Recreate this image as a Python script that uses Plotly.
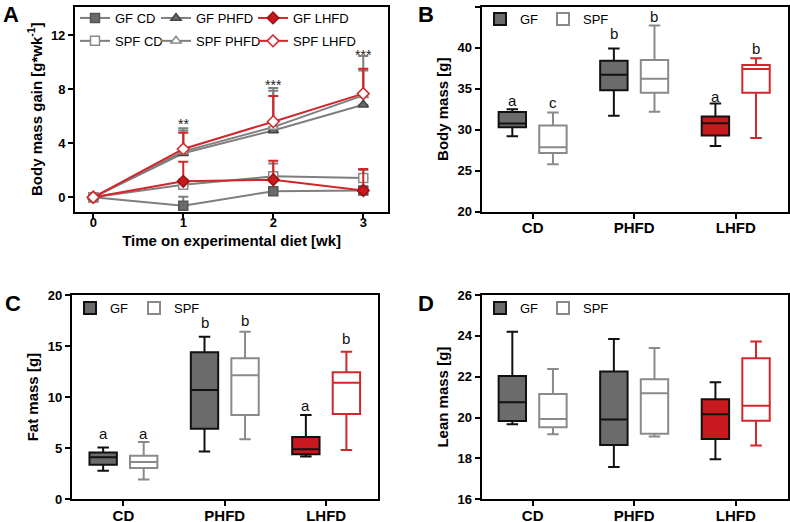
import plotly.graph_objects as go

FONT = "Liberation Sans"

# ---------------- Panel A data (mean, upper SEM/SD) ----------------
weeks = [0, 1, 2, 3]
gf_cd = [0, -0.62, 0.45, 0.5]
gf_cd_err = [0, 0.65, 0.2, 0.15]
spf_cd = [0, 0.92, 1.55, 1.42]
spf_cd_err = [0, 0.4, 0.95, 0.6]
gf_phfd = [0, 3.26, 4.95, 6.86]
gf_phfd_err = [0, 1.85, 3.15, 3.6]
spf_phfd = [0, 3.4, 5.2, 7.55]
spf_phfd_err = [0, 1.55, 2.7, 1.85]
gf_lhfd = [0, 1.18, 1.3, 0.5]
gf_lhfd_err = [0, 1.45, 1.4, 1.6]
spf_lhfd = [0, 3.58, 5.6, 7.68]
spf_lhfd_err = [0, 1.2, 1.9, 1.85]
sig_weeks = [1, 2, 3]
sig_labels = ["**", "***", "***"]
sig_y = [5.45, 8.35, 10.55]

# ---------------- Box panels data ----------------
categories = ["CD", "PHFD", "LHFD"]

body_gf_low = [29.2, 31.7, 28.0]
body_gf_q1 = [30.3, 34.8, 29.3]
body_gf_med = [30.75, 36.7, 30.8]
body_gf_q3 = [32.15, 38.4, 31.6]
body_gf_high = [32.5, 39.9, 33.2]
body_spf_low = [25.8, 32.2, 29.0]
body_spf_q1 = [27.15, 34.5, 34.5]
body_spf_med = [27.85, 36.2, 37.4]
body_spf_q3 = [30.5, 38.5, 37.9]
body_spf_high = [32.1, 42.7, 38.7]
body_gf_letters = ["a", "b", "a"]
body_spf_letters = ["c", "b", "b"]
body_gf_letter_y = [33.6, 41.7, 34.0]
body_spf_letter_y = [33.3, 43.8, 39.9]

fat_gf_low = [2.8, 4.67, 4.18]
fat_gf_q1 = [3.39, 6.9, 4.4]
fat_gf_med = [4.11, 10.7, 4.9]
fat_gf_q3 = [4.57, 14.4, 6.1]
fat_gf_high = [5.06, 15.9, 8.25]
fat_spf_low = [1.93, 5.87, 4.83]
fat_spf_q1 = [3.07, 8.25, 8.35]
fat_spf_med = [3.65, 12.14, 11.42]
fat_spf_q3 = [4.27, 13.8, 12.43]
fat_spf_high = [5.6, 16.4, 14.45]
fat_gf_letters = ["a", "b", "a"]
fat_spf_letters = ["a", "b", "b"]
fat_gf_letter_y = [6.45, 17.3, 9.15]
fat_spf_letter_y = [6.45, 17.5, 15.7]

lean_gf_low = [19.67, 17.58, 17.96]
lean_gf_q1 = [19.83, 18.66, 18.95]
lean_gf_med = [20.75, 19.9, 20.16]
lean_gf_q3 = [22.04, 22.26, 20.9]
lean_gf_high = [24.2, 23.85, 21.73]
lean_spf_low = [19.18, 19.07, 18.63]
lean_spf_q1 = [19.52, 19.21, 19.85]
lean_spf_med = [19.93, 21.19, 20.58]
lean_spf_q3 = [21.15, 21.87, 22.9]
lean_spf_high = [22.38, 23.4, 23.72]

# ---------------- styles ----------------
GRAY_LINE = "#7f7f7f"
GRAY_FILL = "#6b6b6b"
RED_LINE = "#d3262b"
RED_FILL = "#c8191e"
SPF_GRAY = "#8a8a8a"

fig = go.Figure()


def add_line(y, err, name, color, symbol, fill, mcolor, legend):
    fig.add_trace(go.Scatter(
        x=weeks, y=y, name=name, mode="lines+markers",
        line=dict(color=color, width=2),
        marker=dict(symbol=symbol, size=9, color=fill, line=dict(color=mcolor, width=1.5)),
        error_y=dict(type="data", symmetric=False, array=err, arrayminus=[0] * len(err),
                     color=color, thickness=2, width=5),
        legend=legend, legendgroup=name, xaxis="x", yaxis="y",
    ))


add_line(gf_cd, gf_cd_err, "GF CD", GRAY_LINE, "square", GRAY_FILL, "#555555", "legend")
add_line(spf_cd, spf_cd_err, "SPF CD", GRAY_LINE, "square", "white", SPF_GRAY, "legend")
add_line(gf_phfd, gf_phfd_err, "GF PHFD", GRAY_LINE, "triangle-up", GRAY_FILL, "#444444", "legend2")
add_line(spf_phfd, spf_phfd_err, "SPF PHFD", GRAY_LINE, "triangle-up", "white", SPF_GRAY, "legend2")
add_line(gf_lhfd, gf_lhfd_err, "GF LHFD", RED_LINE, "diamond", RED_FILL, "#a01010", "legend3")
add_line(spf_lhfd, spf_lhfd_err, "SPF LHFD", RED_LINE, "diamond", "white", RED_LINE, "legend3")

annotations = []
for w, lab, yv in zip(sig_weeks, sig_labels, sig_y):
    annotations.append(dict(x=w, y=yv, xref="x", yref="y", text=lab, showarrow=False,
                            font=dict(family=FONT, size=14, color="#222")))

OFF = 0.2
BW = 0.27


def add_boxes(xa, ya, leg_gf, leg_spf, gfs, spfs, gl=None, sl=None, gly=None, sly=None):
    for i, cat in enumerate(categories):
        is_l = cat == "LHFD"
        for grp, stats, off, leg in (("GF", gfs, -OFF, leg_gf), ("SPF", spfs, OFF, leg_spf)):
            low, q1, med, q3, high = [s[i] for s in stats]
            if grp == "GF":
                fill = RED_FILL if is_l else GRAY_FILL
                lc = "#111111"
            else:
                fill = "white"
                lc = RED_LINE if is_l else SPF_GRAY
            fig.add_trace(go.Box(
                x=[i + off], q1=[q1], median=[med], q3=[q3], lowerfence=[low], upperfence=[high],
                name=grp, width=BW, whiskerwidth=0.42, fillcolor=fill,
                line=dict(color=lc, width=2), boxpoints=False,
                xaxis=xa, yaxis=ya, legend=leg, showlegend=(i == 0),
            ))
    if gl:
        for i in range(len(categories)):
            annotations.append(dict(x=i - OFF, y=gly[i], xref=xa, yref=ya, text=gl[i], showarrow=False,
                                    font=dict(family=FONT, size=15, color="#111")))
            annotations.append(dict(x=i + OFF, y=sly[i], xref=xa, yref=ya, text=sl[i], showarrow=False,
                                    font=dict(family=FONT, size=15, color="#111")))


add_boxes("x2", "y2", "legend4", "legend5",
          (body_gf_low, body_gf_q1, body_gf_med, body_gf_q3, body_gf_high),
          (body_spf_low, body_spf_q1, body_spf_med, body_spf_q3, body_spf_high),
          body_gf_letters, body_spf_letters, body_gf_letter_y, body_spf_letter_y)
add_boxes("x3", "y3", "legend6", "legend7",
          (fat_gf_low, fat_gf_q1, fat_gf_med, fat_gf_q3, fat_gf_high),
          (fat_spf_low, fat_spf_q1, fat_spf_med, fat_spf_q3, fat_spf_high),
          fat_gf_letters, fat_spf_letters, fat_gf_letter_y, fat_spf_letter_y)
add_boxes("x4", "y4", "legend8", "legend9",
          (lean_gf_low, lean_gf_q1, lean_gf_med, lean_gf_q3, lean_gf_high),
          (lean_spf_low, lean_spf_q1, lean_spf_med, lean_spf_q3, lean_spf_high))

# panel letters
for lab, px, py in (("A", 1, 14), ("B", 416, 14), ("C", 3, 303), ("D", 416, 303)):
    annotations.append(dict(x=px / 790, y=1 - py / 522, xref="paper", yref="paper", text=lab,
                            showarrow=False, xanchor="left", yanchor="middle",
                            font=dict(family=FONT, size=22, color="black", weight="bold")))

tickfont = dict(family=FONT, size=13, color="black", weight="bold")
catfont = dict(family=FONT, size=15, color="black", weight="bold")
titlefont = dict(family=FONT, size=15, color="black", weight="bold")


def axis_common():
    return dict(showline=True, linewidth=2, linecolor="black", mirror=True, ticks="outside",
                ticklen=5, tickwidth=1.5, tickcolor="black", showgrid=False, zeroline=False,
                tickfont=tickfont, automargin=False)


dom_top = [0.5944, 0.9872]
dom_bot = [0.0435, 0.4349]

layout_axes = dict(
    xaxis=dict(**axis_common(), domain=[0.0949, 0.4915], range=[-0.203, 3.278], tickvals=weeks,
               anchor="y", ticklabelstandoff=-7,
               title=dict(text="Time on experimental diet [wk]", font=titlefont, standoff=6)),
    yaxis=dict(**axis_common(), domain=dom_top, range=[-1.07, 14.12], tickvals=[0, 4, 8, 12],
               anchor="x", title=dict(text="Body mass gain [g*wk<sup>-1</sup>]", font=titlefont, standoff=5)),
    xaxis2=dict(**axis_common(), domain=[0.6097, 0.9971], range=[-0.502, 2.512], tickvals=[0, 1, 2],
                ticktext=categories, anchor="y2", ticklabelstandoff=-4),
    yaxis2=dict(**axis_common(), domain=dom_top, range=[20, 45], tickvals=[20, 25, 30, 35, 40, 45],
                anchor="x2", title=dict(text="Body mass [g]", font=titlefont, standoff=5)),
    xaxis3=dict(**axis_common(), domain=[0.0908, 0.4789], range=[-0.51, 2.515], tickvals=[0, 1, 2],
                ticktext=categories, anchor="y3", ticklabelstandoff=-3),
    yaxis3=dict(**axis_common(), domain=dom_bot, range=[0, 20], tickvals=[0, 5, 10, 15, 20],
                anchor="x3", title=dict(text="Fat mass [g]", font=titlefont, standoff=5)),
    xaxis4=dict(**axis_common(), domain=[0.6097, 0.9971], range=[-0.502, 2.512], tickvals=[0, 1, 2],
                ticktext=categories, anchor="y4", ticklabelstandoff=-3),
    yaxis4=dict(**axis_common(), domain=dom_bot, range=[16, 26], tickvals=[16, 18, 20, 22, 24, 26],
                anchor="x4", title=dict(text="Lean mass [g]", font=titlefont, standoff=5)),
)
for k in ("xaxis2", "xaxis3", "xaxis4"):
    layout_axes[k]["tickfont"] = catfont

legfont = dict(family=FONT, size=13, color="black")


def vleg(xpx, ypx):
    return dict(x=xpx / 790, y=1 - ypx / 522, xanchor="left", yanchor="top", orientation="v",
                font=legfont, bgcolor="rgba(0,0,0,0)", tracegroupgap=3, itemwidth=30)


fig.update_layout(
    width=790, height=522, margin=dict(l=0, r=0, t=0, b=0),
    paper_bgcolor="white", plot_bgcolor="white",
    font=dict(family=FONT, color="black"),
    boxmode="overlay",
    annotations=annotations,
    legend=vleg(75, 3), legend2=vleg(156, 3), legend3=vleg(253, 3),
    legend4=vleg(480, 4), legend5=vleg(543, 4),
    legend6=vleg(70, 293), legend7=vleg(134, 293),
    legend8=vleg(480, 293), legend9=vleg(543, 293),
    **layout_axes,
)

fig.write_html("out.html", config={"displayModeBar": False},
               post_script="document.body.style.margin='0px';document.body.style.overflow='hidden';")
